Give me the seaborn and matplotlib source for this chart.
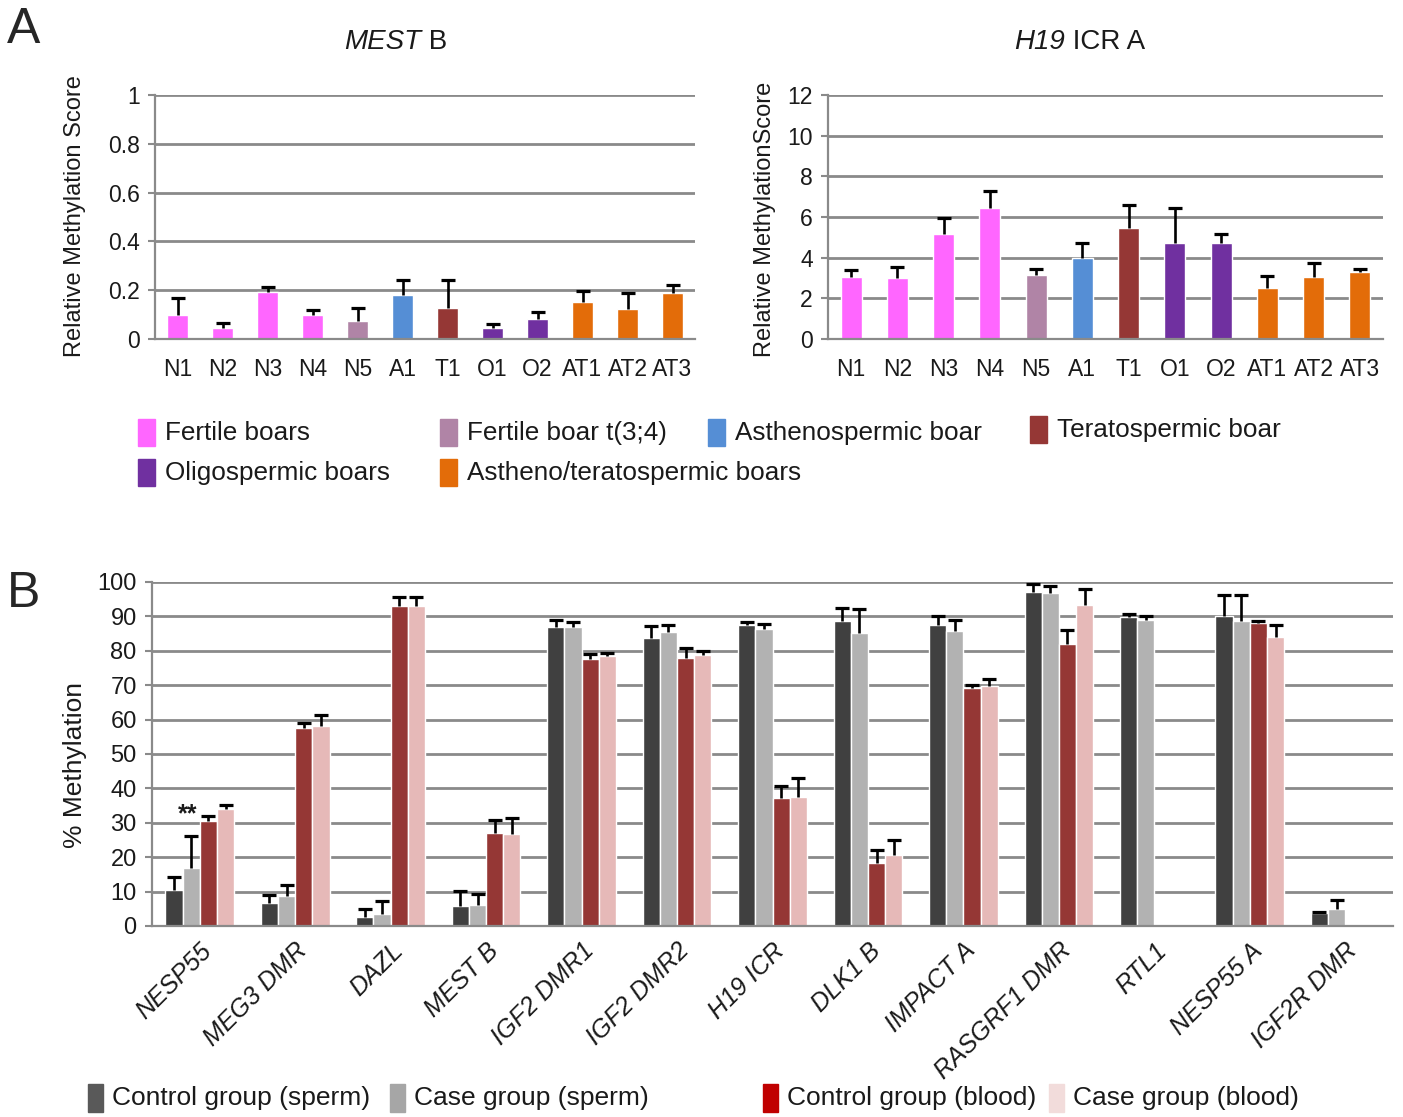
import numpy as np
import pandas as pd
import matplotlib
matplotlib.use("Agg")
import matplotlib.pyplot as plt
from matplotlib.patches import Rectangle
from matplotlib.container import BarContainer
import seaborn as sns

# ---------------- data: panel A ----------------
samples = ["N1", "N2", "N3", "N4", "N5", "A1", "T1", "O1", "O2", "AT1", "AT2", "AT3"]
sample_group = ["Fertile boars", "Fertile boars", "Fertile boars", "Fertile boars",
                "Fertile boar t(3;4)", "Asthenospermic boar", "Teratospermic boar",
                "Oligospermic boars", "Oligospermic boars",
                "Astheno/teratospermic boars", "Astheno/teratospermic boars",
                "Astheno/teratospermic boars"]
mest_score = [0.100, 0.045, 0.193, 0.100, 0.073, 0.180, 0.127, 0.044, 0.084, 0.150, 0.125, 0.189]
mest_err = [0.067, 0.021, 0.020, 0.020, 0.054, 0.061, 0.114, 0.017, 0.026, 0.047, 0.062, 0.034]
h19_score = [3.04, 2.99, 5.15, 6.43, 3.14, 4.00, 5.48, 4.74, 4.74, 2.52, 3.03, 3.31]
h19_err = [0.36, 0.55, 0.80, 0.84, 0.30, 0.72, 1.10, 1.69, 0.44, 0.56, 0.70, 0.14]

group_names = ["Fertile boars", "Fertile boar t(3;4)", "Asthenospermic boar",
               "Teratospermic boar", "Oligospermic boars", "Astheno/teratospermic boars"]
group_colors = ["#FF66FF", "#B084A6", "#558ED5", "#953735", "#7030A0", "#E36C09"]

# ---------------- data: panel B ----------------
regions = ["NESP55", "MEG3 DMR", "DAZL", "MEST B", "IGF2 DMR1", "IGF2 DMR2", "H19 ICR",
           "DLK1 B", "IMPACT A", "RASGRF1 DMR", "RTL1", "NESP55 A", "IGF2R DMR"]
series_names = ["Control group (sperm)", "Case group (sperm)",
                "Control group (blood)", "Case group (blood)"]
ctrl_sperm = [10.6, 6.8, 2.7, 5.7, 86.8, 83.6, 87.6, 88.7, 87.6, 97.2, 89.9, 90.0, 3.7]
ctrl_sperm_err = [3.6, 2.1, 2.3, 4.5, 2.2, 3.7, 0.9, 3.7, 2.5, 2.1, 0.8, 6.1, 0.5]
case_sperm = [16.8, 8.6, 3.5, 6.0, 86.8, 85.6, 86.2, 85.1, 85.8, 96.9, 89.0, 88.7, 4.9]
case_sperm_err = [9.3, 3.2, 3.7, 3.3, 1.6, 1.8, 1.7, 7.0, 3.1, 1.9, 1.1, 7.6, 2.7]
ctrl_blood = [30.5, 57.7, 93.0, 26.9, 77.5, 77.9, 37.3, 18.4, 69.2, 81.9, np.nan, 88.0, np.nan]
ctrl_blood_err = [1.4, 1.3, 2.7, 4.0, 1.7, 2.9, 3.3, 3.7, 0.9, 4.1, np.nan, 0.8, np.nan]
case_blood = [33.9, 58.0, 93.0, 26.7, 78.6, 78.9, 37.6, 20.7, 69.9, 93.2, np.nan, 84.0, np.nan]
case_blood_err = [1.3, 3.2, 2.7, 4.8, 0.8, 1.1, 5.4, 4.3, 2.0, 4.9, np.nan, 3.6, np.nan]

bar_colors = ["#404040", "#B2B2B2", "#953735", "#E6B9B8"]
legend_b_colors = ["#595959", "#A6A6A6", "#C00000", "#F2DCDB"]

# ---------------- style ----------------
sns.set_style("white")
plt.rcParams["font.family"] = ["Liberation Sans", "DejaVu Sans"]

GRID = "#8A8A8A"
TXT = "#1a1a1a"
W, H = 1403, 1117
fig = plt.figure(figsize=(W / 100, H / 100), dpi=100)


def fx(px):
    return px / W


def fy(py):
    return 1 - py / H


def style_axes(ax, n, ymax, step, fmt):
    ax.set_ylim(0, ymax)
    ax.set_xlim(-0.5, n - 0.5)
    ticks = np.arange(0, ymax + step / 2, step)
    ax.set_yticks(ticks)
    ax.set_yticklabels([fmt(t) for t in ticks])
    ax.yaxis.grid(True, color=GRID, linewidth=2.0)
    ax.set_axisbelow(True)
    for s in ["top", "right"]:
        ax.spines[s].set_visible(False)
    for s in ["left", "bottom"]:
        ax.spines[s].set_color(GRID)
        ax.spines[s].set_linewidth(1.6)
    ax.set_xticks(np.arange(-0.5, n, 1.0), minor=True)
    ax.tick_params(axis="x", which="major", length=0, pad=8)
    ax.tick_params(axis="x", which="minor", length=6, width=1.5, color=GRID, direction="out")
    ax.tick_params(axis="y", which="major", length=5, width=1.5, color=GRID,
                   direction="out", pad=6, left=True)
    ax.set_xlabel("")
    ax.set_ylabel("")


def add_errorbars(ax, err_by_level):
    # upper-only error bars placed on each drawn bar
    bar_conts = [c for c in ax.containers if isinstance(c, BarContainer)]
    for level, cont in enumerate(bar_conts):
        for bar in cont.patches:
            h = bar.get_height()
            if h is None or not np.isfinite(h):
                continue
            xc = bar.get_x() + bar.get_width() / 2
            idx = int(round(xc))
            e = err_by_level[level][idx]
            if not np.isfinite(e):
                continue
            eb = ax.errorbar([xc], [h], yerr=[[0], [e]], fmt="none", ecolor="black",
                             elinewidth=1.9, capsize=5, capthick=2.3, zorder=4)
            for cap in eb[1]:
                if np.isclose(cap.get_ydata()[0], h):
                    cap.set_visible(False)


def two_part_text(cx, cy, italic_part, rest, size):
    t1 = fig.text(0, fy(cy), italic_part, style="italic", fontsize=size,
                  va="center", ha="left", color=TXT)
    t2 = fig.text(0, fy(cy), rest, fontsize=size, va="center", ha="left", color=TXT)
    r = fig.canvas.get_renderer()
    w1 = t1.get_window_extent(r).width
    w2 = t2.get_window_extent(r).width
    x0 = cx - (w1 + w2) / 2
    t1.set_x(fx(x0))
    t2.set_x(fx(x0 + w1))


color_of = dict(zip(group_names, group_colors))
sample_palette = {s: color_of[g] for s, g in zip(samples, sample_group)}

# ---------------- panel A ----------------
for (score, err, left, width, ymax, step, fmt) in [
    (mest_score, mest_err, 155, 540, 1.0, 0.2,
     lambda t: "0" if t == 0 else ("1" if t == 1 else f"{t:.1f}")),
    (h19_score, h19_err, 828, 555, 12, 2, lambda t: f"{int(round(t))}"),
]:
    ax = fig.add_axes([fx(left), fy(339), fx(width), 244 / H])
    df = pd.DataFrame({"sample": samples, "score": score})
    sns.barplot(data=df, x="sample", y="score", hue="sample", palette=sample_palette,
                order=samples, hue_order=samples, width=0.45, errorbar=None,
                legend=False, saturation=1, ax=ax)
    style_axes(ax, len(samples), ymax, step, fmt)
    ax.tick_params(axis="both", labelsize=16.5, labelcolor=TXT)
    ax.tick_params(axis="x", which="major", pad=14)
    # one container per sample (hue level) -> map error by sample index
    errs = [[err[i] if j == i else np.nan for j in range(len(samples))]
            for i in range(len(samples))]
    add_errorbars(ax, errs)

two_part_text(396, 42, "MEST", " B", 20)
two_part_text(1080, 42, "H19", " ICR A", 20)
fig.text(fx(75), fy(216), "Relative Methylation Score", rotation=90, ha="center",
         va="center", fontsize=17, color=TXT)
fig.text(fx(765), fy(219), "Relative MethylationScore", rotation=90, ha="center",
         va="center", fontsize=17, color=TXT)

# legend for panel A
legend_a = [(138, 433), (440, 433), (708, 433), (1030, 430), (138, 473), (440, 473)]
for (px, py), name, col in zip(legend_a, group_names, group_colors):
    fig.add_artist(Rectangle((fx(px), fy(py + 13)), 17 / W, 27 / H, color=col,
                             transform=fig.transFigure))
    fig.text(fx(px + 27), fy(py), name, ha="left", va="center", fontsize=18.8,
             color=TXT)

# ---------------- panel B ----------------
axb = fig.add_axes([fx(152), fy(926), fx(1241), 344 / H])
long_rows = []
for name, vals in zip(series_names, [ctrl_sperm, case_sperm, ctrl_blood, case_blood]):
    for r, v in zip(regions, vals):
        long_rows.append({"region": r, "group": name, "pct": v})
dfb = pd.DataFrame(long_rows)
sns.barplot(data=dfb, x="region", y="pct", hue="group", order=regions,
            hue_order=series_names, palette=bar_colors, width=0.72, gap=0,
            errorbar=None, legend=False, saturation=1, ax=axb)
style_axes(axb, len(regions), 100, 10, lambda t: f"{int(t)}")
axb.tick_params(axis="y", labelsize=17, labelcolor=TXT)
add_errorbars(axb, [ctrl_sperm_err, case_sperm_err, ctrl_blood_err, case_blood_err])

axb.set_xticks(np.arange(len(regions)))
axb.set_xticklabels(regions, rotation=45, ha="right", va="top", rotation_mode="anchor",
                    fontsize=18, style="italic", color=TXT)
axb.tick_params(axis="x", which="major", pad=9)

# significance mark above NESP55 case (sperm) bar
bar_conts_b = [c for c in axb.containers if isinstance(c, BarContainer)]
gray_bar = bar_conts_b[1].patches[0]
axb.text(gray_bar.get_x() + 0.3 * gray_bar.get_width(), 30.5, "**", ha="center",
         va="baseline", fontsize=18, fontweight="bold", color=TXT)

fig.text(fx(75), fy(765), "% Methylation", rotation=90, ha="center", va="center",
         fontsize=19, color=TXT)

# legend for panel B
legend_b = [(88, 1098), (390, 1098), (763, 1098), (1049, 1098)]
for (px, py), name, col in zip(legend_b, series_names, legend_b_colors):
    fig.add_artist(Rectangle((fx(px), fy(py + 14)), 15 / W, 28 / H, color=col,
                             transform=fig.transFigure))
    fig.text(fx(px + 24), fy(py), name, ha="left", va="center", fontsize=19,
             color=TXT)

# panel letters
fig.text(fx(7), fy(30), "A", ha="left", va="center", fontsize=36)
fig.text(fx(7), fy(594), "B", ha="left", va="center", fontsize=36)

fig.savefig("out.png", dpi=100)
